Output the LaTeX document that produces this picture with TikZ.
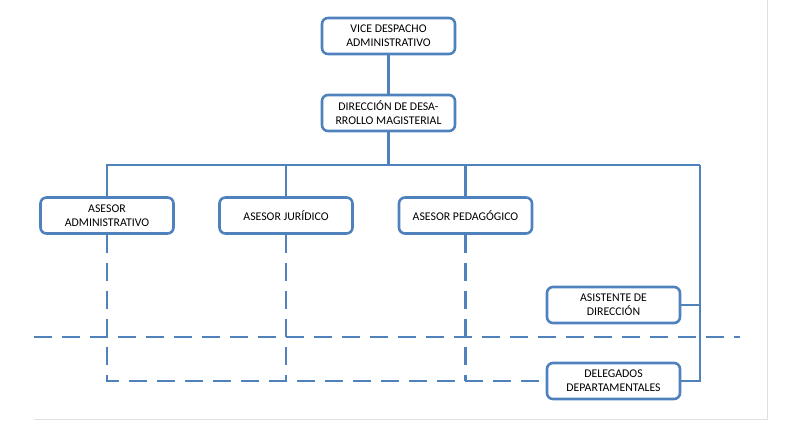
\documentclass[tikz,border=0pt]{standalone}
\usepackage{fontspec}
\setmainfont{Carlito}
\usetikzlibrary{positioning}
\definecolor{azul}{HTML}{4F81BD}

\begin{document}
\begin{tikzpicture}[x=1pt, y=-1pt,
    unidad/.style={draw=azul, line width=2.6pt, rounded corners=6pt, fill=white, minimum width=133pt, minimum height=36pt, align=center, font=\fontsize{11.8}{14}\selectfont},
    linea/.style={azul, line width=2.6pt},
    guion/.style={linea, dash pattern=on 18pt off 10pt}]
    \useasboundingbox (0,0) rectangle (791,425);
    \draw[black!12, line width=0.8pt] (34,419) -- (767,419) -- (767,0);

    \node[unidad] (vice) at (388.5,36) {VICE DESPACHO\\ADMINISTRATIVO};
    \node[unidad] (dir) at (388.5,113) {DIRECCIÓN DE DESA-\\RROLLO MAGISTERIAL};

    \node[unidad] (aadm) at (107,215.5) {ASESOR\\ADMINISTRATIVO};
    \node[unidad] (ajur) at (286,215.5) {ASESOR JURÍDICO};
    \node[unidad] (aped) at (465.5,215.5) {ASESOR PEDAGÓGICO};

    \node[unidad] (asist) at (613.5,305) {ASISTENTE DE\\DIRECCIÓN};
    \node[unidad] (deleg) at (613.5,381) {DELEGADOS\\DEPARTAMENTALES};

    \coordinate (bus) at (388.5,165);
    \coordinate (busder) at (700,165);
    \coordinate (corteizq) at (34,337);
    \coordinate (corteder) at (740,337);

    % lineas de mando
    \draw[linea] (vice) -- (dir);
    \draw[linea] (dir) -- (bus);
    \draw[linea] (aadm.north) |- (bus) -- (busder);
    \draw[linea] (ajur.north) -- (ajur.north |- bus);
    \draw[linea] (aped.north) -- (aped.north |- bus);
    \draw[linea] (busder) |- (deleg.east);
    \draw[linea] (asist.east) -- (asist.east -| busder);

    % coordinacion
    \draw[guion] (aadm.south) |- (deleg.west);
    \draw[guion] (ajur.south) -- (ajur.south |- deleg.west);
    \draw[guion] (aped.south) -- (aped.south |- deleg.west);
    \draw[guion] (corteizq) -- (corteder);
\end{tikzpicture}
\end{document}
